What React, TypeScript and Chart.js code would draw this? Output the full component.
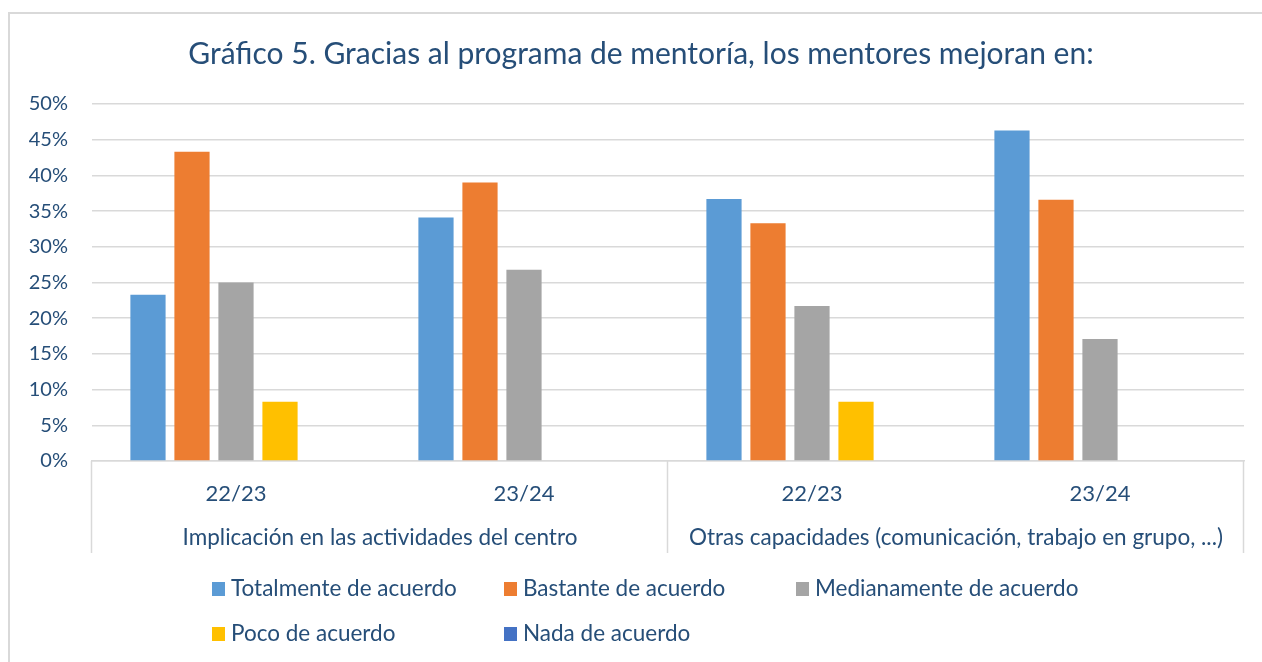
import React, { useEffect, useRef } from "react";
import { Chart, registerables } from "chart.js";

Chart.register(...registerables);

// ---- Data ----
const titleText = "Gráfico 5. Gracias al programa de mentoría, los mentores mejoran en:";
const yearLabels = ["22/23", "23/24", "22/23", "23/24"];
const groupLabels = [
  "Implicación en las actividades del centro",
  "Otras capacidades (comunicación, trabajo en grupo, ...)",
];
const seriesNames = [
  "Totalmente de acuerdo",
  "Bastante de acuerdo",
  "Medianamente de acuerdo",
  "Poco de acuerdo",
  "Nada de acuerdo",
];
const totalmente = [23.3, 34.1, 36.7, 46.3];
const bastante = [43.3, 39.0, 33.3, 36.6];
const medianamente = [25.0, 26.8, 21.7, 17.1];
const poco = [8.3, 0, 8.3, 0];
const nada = [0, 0, 0, 0];
const yTickValues = [0, 5, 10, 15, 20, 25, 30, 35, 40, 45, 50];

// ---- Style ----
const seriesColors = ["#5B9BD5", "#ED7D31", "#A5A5A5", "#FFC000", "#4472C4"];
const TEXT = "#264E78";
const GRID = "#D9D9D9";
const FONT = "Lato, 'Open Sans', sans-serif";
const W = 1262;
const H = 662;

const decorPlugin = {
  id: "decor",
  beforeDraw(chart: any) {
    const ctx = chart.ctx;
    ctx.save();
    ctx.fillStyle = "#FFFFFF";
    ctx.fillRect(0, 0, chart.width, chart.height);
    // chart frame (left + top visible)
    ctx.strokeStyle = GRID;
    ctx.lineWidth = 2;
    ctx.beginPath();
    ctx.moveTo(9, chart.height + 2);
    ctx.lineTo(9, 13);
    ctx.lineTo(chart.width + 2, 13);
    ctx.stroke();
    // title
    ctx.fillStyle = TEXT;
    ctx.font = `30px ${FONT}`;
    ctx.textAlign = "center";
    ctx.textBaseline = "middle";
    ctx.fillText(titleText, 641, 54);
    ctx.restore();
  },
  afterDraw(chart: any) {
    const ctx = chart.ctx;
    const area = chart.chartArea;
    const x = chart.scales.x;
    ctx.save();
    // separators of the two-level axis
    const mid = (x.getPixelForValue(1) + x.getPixelForValue(2)) / 2;
    const seps = [area.left, mid, area.right];
    ctx.strokeStyle = GRID;
    ctx.lineWidth = 1.5;
    ctx.beginPath();
    for (const sx of seps) {
      const px = Math.round(sx) - 0.5;
      ctx.moveTo(px, area.bottom);
      ctx.lineTo(px, area.bottom + 92);
    }
    ctx.stroke();
    // group labels
    ctx.fillStyle = TEXT;
    ctx.font = `22.5px ${FONT}`;
    ctx.textAlign = "center";
    ctx.textBaseline = "middle";
    ctx.fillText(groupLabels[0], (seps[0] + seps[1]) / 2, area.bottom + 77);
    ctx.fillText(groupLabels[1], (seps[1] + seps[2]) / 2, area.bottom + 77);
    // legend: 3 columns, 2 rows
    const colW = 292;
    const startX = 212;
    const rows = [589, 634];
    ctx.textAlign = "left";
    seriesNames.forEach((name, i) => {
      const col = i % 3;
      const row = Math.floor(i / 3);
      const lx = startX + col * colW;
      const ly = rows[row];
      ctx.fillStyle = seriesColors[i];
      ctx.fillRect(lx, ly - 7, 13, 14);
      ctx.fillStyle = TEXT;
      ctx.fillText(name, lx + 19, ly);
    });
    ctx.restore();
  },
};

export default function App() {
  const ref = useRef<HTMLCanvasElement | null>(null);
  useEffect(() => {
    if (!ref.current) return;
    const allSeries = [totalmente, bastante, medianamente, poco, nada];
    const chart = new Chart(ref.current, {
      type: "bar",
      data: {
        labels: yearLabels,
        datasets: allSeries.map((d, i) => ({
          label: seriesNames[i],
          data: d,
          backgroundColor: seriesColors[i],
          borderWidth: 0,
          barPercentage: 0.8,
          categoryPercentage: 0.764,
        })),
      },
      options: {
        responsive: false,
        animation: false,
        layout: { padding: { left: 0, right: 18, top: 104, bottom: 0 } },
        plugins: {
          legend: { display: false },
          title: { display: false },
          tooltip: { enabled: false },
        },
        scales: {
          x: {
            grid: { display: false, drawTicks: false },
            border: { display: true, color: GRID, width: 1.5 },
            ticks: {
              color: TEXT,
              font: { family: FONT, size: 22 },
              padding: 20,
              maxRotation: 0,
            },
            afterFit: (s: any) => {
              s.height = 201;
            },
          },
          y: {
            min: 0,
            max: 50,
            afterBuildTicks: (s: any) => {
              s.ticks = yTickValues.map((v) => ({ value: v }));
            },
            grid: { color: GRID, lineWidth: 1.5, drawTicks: false },
            border: { display: false },
            ticks: {
              color: TEXT,
              font: { family: FONT, size: 20 },
              padding: 24,
              callback: (v: any) => `${v}%`,
            },
            afterFit: (s: any) => {
              s.width = 92;
            },
          },
        },
      },
      plugins: [decorPlugin],
    });
    return () => chart.destroy();
  }, []);
  return (
    <div style={{ position: "absolute", left: 0, top: 0, width: W, height: H, background: "#fff" }}>
      <canvas ref={ref} width={W} height={H} style={{ display: "block", width: W, height: H }} />
    </div>
  );
}
